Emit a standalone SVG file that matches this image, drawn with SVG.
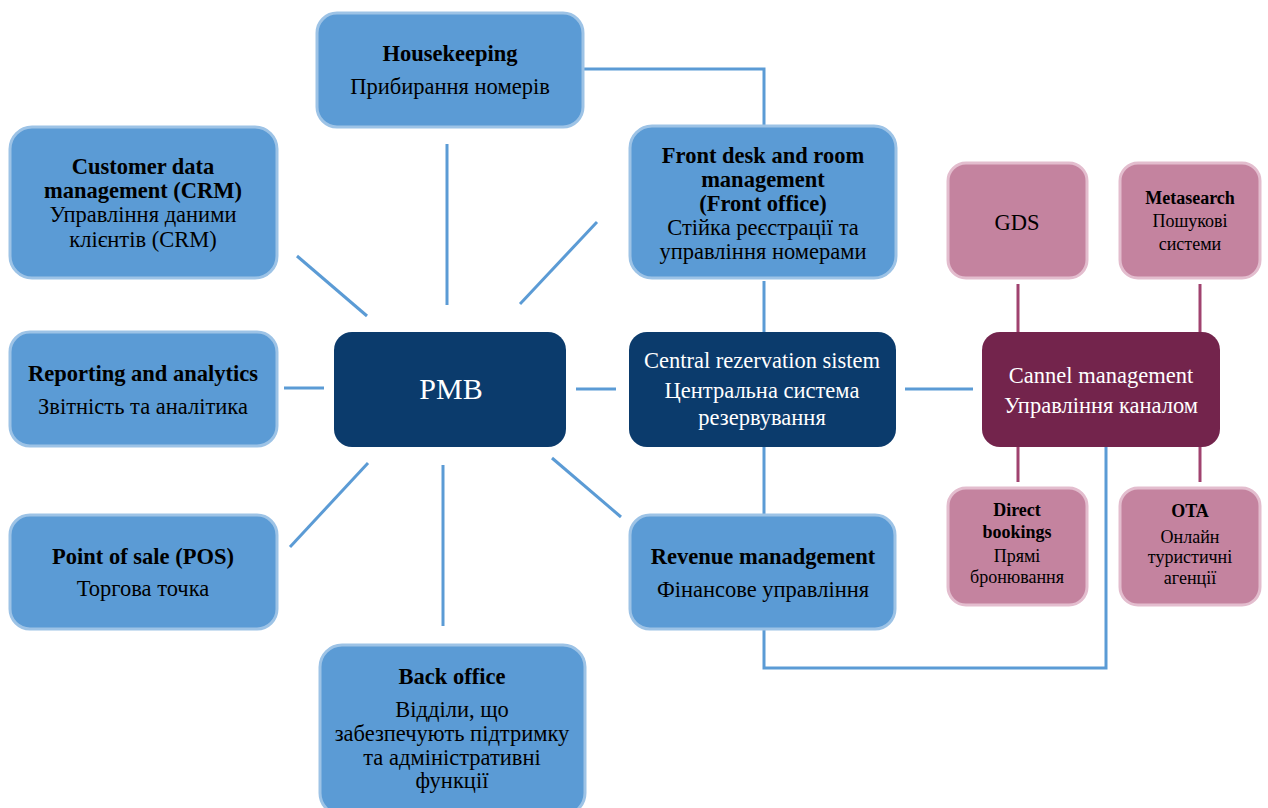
<svg xmlns="http://www.w3.org/2000/svg" width="1268" height="808" viewBox="0 0 1268 808" font-family="'Liberation Serif', 'DejaVu Serif', serif">
<style>
.blue{fill:#5B9BD5;stroke:#9DC3E6;stroke-width:3}
.navy{fill:#0B3B6C}
.plum{fill:#73244C}
.pink{fill:#C4839F;stroke:#E3BDCE;stroke-width:3}
text{font-family:'Liberation Serif','Times New Roman',serif;font-size:22.5px;fill:#000;text-anchor:middle}
.b{font-weight:bold}
.w{fill:#fff}
.s{font-size:18px}
.c{stroke:#5B9BD5;stroke-width:3;fill:none}
.p{stroke:#A0426F;stroke-width:3;fill:none}
</style>
<rect width="1268" height="808" fill="#fff"/>
<g id="connectors">
<polyline class="c" points="583,69 764,69 764,126"/>
<line class="c" x1="447" y1="144" x2="447" y2="305"/>
<line class="c" x1="297" y1="256" x2="367" y2="316"/>
<line class="c" x1="597" y1="222" x2="520" y2="304"/>
<line class="c" x1="284" y1="388" x2="324" y2="388"/>
<line class="c" x1="576" y1="389" x2="616" y2="389"/>
<line class="c" x1="905" y1="389" x2="973" y2="389"/>
<line class="c" x1="764" y1="281" x2="764" y2="332"/>
<line class="c" x1="764" y1="447" x2="764" y2="515"/>
<line class="c" x1="368" y1="463" x2="290" y2="547"/>
<line class="c" x1="443" y1="465" x2="443" y2="626"/>
<line class="c" x1="552" y1="458" x2="621" y2="517"/>
<polyline class="c" points="764,629 764,668 1106,668 1106,447"/>
<line class="p" x1="1018" y1="284" x2="1018" y2="332"/>
<line class="p" x1="1200" y1="284" x2="1200" y2="332"/>
<line class="p" x1="1018" y1="447" x2="1018" y2="482"/>
<line class="p" x1="1200" y1="447" x2="1200" y2="482"/>
</g>
<g id="housekeeping">
<rect class="blue" x="317" y="13" width="266" height="114" rx="20"/>
<text class="b" x="450" y="61">Housekeeping</text>
<text x="450" y="94">Прибирання номерів</text>
</g>
<g id="crm">
<rect class="blue" x="10" y="127" width="267" height="151" rx="22"/>
<text class="b" x="143" y="174">Customer data</text>
<text class="b" x="143" y="198">management (CRM)</text>
<text x="143" y="222">Управління даними</text>
<text x="143" y="247">клієнтів (CRM)</text>
</g>
<g id="reporting">
<rect class="blue" x="10" y="332" width="267" height="114" rx="20"/>
<text class="b" x="143" y="381">Reporting and analytics</text>
<text x="143" y="414">Звітність та аналітика</text>
</g>
<g id="pos">
<rect class="blue" x="10" y="515" width="267" height="114" rx="20"/>
<text class="b" x="143" y="564">Point of sale (POS)</text>
<text x="143" y="596">Торгова точка</text>
</g>
<g id="backoffice">
<rect class="blue" x="320" y="645" width="265" height="170" rx="22"/>
<text class="b" x="452" y="684">Back office</text>
<text x="452" y="717">Відділи, що</text>
<text x="452" y="741">забезпечують підтримку</text>
<text x="452" y="765">та адміністративні</text>
<text x="452" y="788">функції</text>
</g>
<g id="pmb">
<rect class="navy" x="334" y="332" width="232" height="115" rx="18"/>
<text class="w" x="451" y="399" style="font-size:30px">PMB</text>
</g>
<g id="frontdesk">
<rect class="blue" x="630" y="126" width="266" height="152" rx="22"/>
<text class="b" x="763" y="163">Front desk and room</text>
<text class="b" x="763" y="187">management</text>
<text class="b" x="763" y="211">(Front office)</text>
<text x="763" y="235">Стійка реєстрації та</text>
<text x="763" y="259">управління номерами</text>
</g>
<g id="central">
<rect class="navy" x="629" y="332" width="267" height="115" rx="18"/>
<text class="w" x="762" y="368">Central rezervation sistem</text>
<text class="w" x="762" y="398">Центральна система</text>
<text class="w" x="762" y="425">резервування</text>
</g>
<g id="revenue">
<rect class="blue" x="630" y="515" width="265" height="114" rx="20"/>
<text class="b" x="763" y="564">Revenue manadgement</text>
<text x="763" y="597">Фінансове управління</text>
</g>
<g id="cannel">
<rect class="plum" x="982" y="332" width="238" height="115" rx="18"/>
<text class="w" x="1101" y="383">Cannel management</text>
<text class="w" x="1101" y="413">Управління каналом</text>
</g>
<g id="gds">
<rect class="pink" x="948" y="163" width="139" height="115" rx="18"/>
<text x="1017" y="230">GDS</text>
</g>
<g id="metasearch">
<rect class="pink" x="1120" y="163" width="140" height="115" rx="18"/>
<text class="b s" x="1190" y="204">Metasearch</text>
<text class="s" x="1190" y="227">Пошукові</text>
<text class="s" x="1190" y="250">системи</text>
</g>
<g id="direct">
<rect class="pink" x="948" y="488" width="139" height="117" rx="18"/>
<text class="b s" x="1017" y="516">Direct</text>
<text class="b s" x="1017" y="538">bookings</text>
<text class="s" x="1017" y="562">Прямі</text>
<text class="s" x="1017" y="583">бронювання</text>
</g>
<g id="ota">
<rect class="pink" x="1120" y="488" width="140" height="117" rx="18"/>
<text class="b s" x="1190" y="517">OTA</text>
<text class="s" x="1190" y="543">Онлайн</text>
<text class="s" x="1190" y="563">туристичні</text>
<text class="s" x="1190" y="584">агенції</text>
</g>
</svg>
